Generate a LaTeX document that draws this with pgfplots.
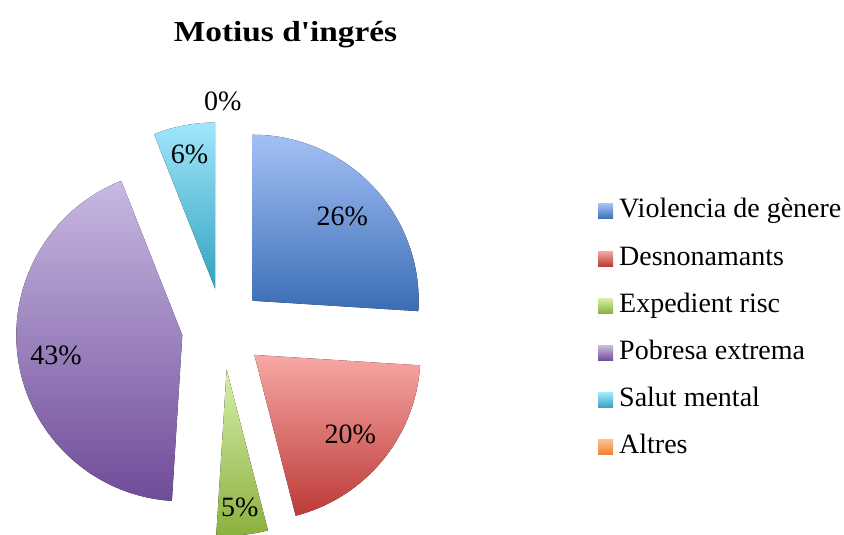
\documentclass[border=0pt]{standalone}
\usepackage{pgfplots}
\pgfplotsset{compat=1.18}
\usepackage{pgfplotstable}
\usepackage{fontspec}
\setmainfont{Liberation Serif}
\newfontfamily\titlefont{Liberation Serif}[FakeStretch=1.15, Ligatures=TeXOff]

% slice colours: light at the top, dark at the bottom
\definecolor{c1top}{HTML}{A3C0F5} \definecolor{c1bot}{HTML}{3A6DB5}
\definecolor{c2top}{HTML}{F7A8A5} \definecolor{c2bot}{HTML}{BC3A37}
\definecolor{c3top}{HTML}{D6EFA9} \definecolor{c3bot}{HTML}{8AB03E}
\definecolor{c4top}{HTML}{C8B8E2} \definecolor{c4bot}{HTML}{6F4C98}
\definecolor{c5top}{HTML}{A0E6FB} \definecolor{c5bot}{HTML}{34A2BF}
\definecolor{c6top}{HTML}{FAC090} \definecolor{c6bot}{HTML}{F07F2E}

% value in %, labpos = label distance as fraction of radius
\pgfplotstableread[col sep=comma]{
key,name,value,labpos
c1,Violencia de gènere,26,0.74
c2,Desnonamants,20,0.75
c3,Expedient risc,5,0.835
c4,Pobresa extrema,43,0.77
c5,Salut mental,6,0.82
c6,Altres,0,1.125
}\motius

\def\fs{\fontsize{28bp}{32bp}\selectfont}

\begin{document}
\begin{tikzpicture}
\begin{axis}[
  x=1bp, y=1bp,
  xmin=0, xmax=844, ymin=0, ymax=535,
  hide axis,
]
\path (axis cs:0,0) rectangle (axis cs:844,535);
\pgfplotsextra{
  \xdef\cum{0}
  \foreach \i in {0,...,5}{
    \pgfplotstablegetelem{\i}{value}\of\motius \let\v\pgfplotsretval
    \pgfplotstablegetelem{\i}{key}\of\motius \let\k\pgfplotsretval
    \pgfplotstablegetelem{\i}{labpos}\of\motius \let\f\pgfplotsretval
    \pgfplotstablegetelem{\i}{name}\of\motius \let\nm\pgfplotsretval
    \pgfmathsetmacro\aone{90-3.6*\cum}
    \pgfmathsetmacro\atwo{90-3.6*(\cum+\v)}
    \pgfmathsetmacro\amid{(\aone+\atwo)/2}
    % exploded apex
    \pgfmathsetmacro\ax{222.8+41*cos(\amid)}
    \pgfmathsetmacro\ay{206.2+41*sin(\amid)}
    \pgfmathsetmacro\lx{\ax+\f*166*cos(\amid)}
    \pgfmathsetmacro\ly{\ay+\f*166*sin(\amid)}
    \ifdim\v pt>0pt
      \fill[top color=\k top, bottom color=\k bot]
        (axis cs:\ax,\ay) -- ++(\aone:166bp)
        arc[start angle=\aone, end angle=\atwo, radius=166bp] -- cycle;
    \fi
    \node[font=\fs, inner sep=0pt] at (axis cs:\lx,\ly) {\v\%};
    % legend entry
    \pgfmathsetmacro\ry{535-211.5-47.2*\i}
    \fill[top color=\k top, bottom color=\k bot]
      (axis cs:598,\ry-7.5) rectangle (axis cs:613,\ry+7.5);
    \node[font=\fs, anchor=west, inner sep=0pt] at (axis cs:619,\ry) {\strut\nm};
    \pgfmathsetmacro\c{\cum+\v}\xdef\cum{\c}
  }
  \node[font=\titlefont\bfseries\fontsize{29bp}{32bp}\selectfont, anchor=base]
    at (axis cs:285.5,493.3) {Motius d'ingrés};
}
\end{axis}
\end{tikzpicture}
\end{document}
